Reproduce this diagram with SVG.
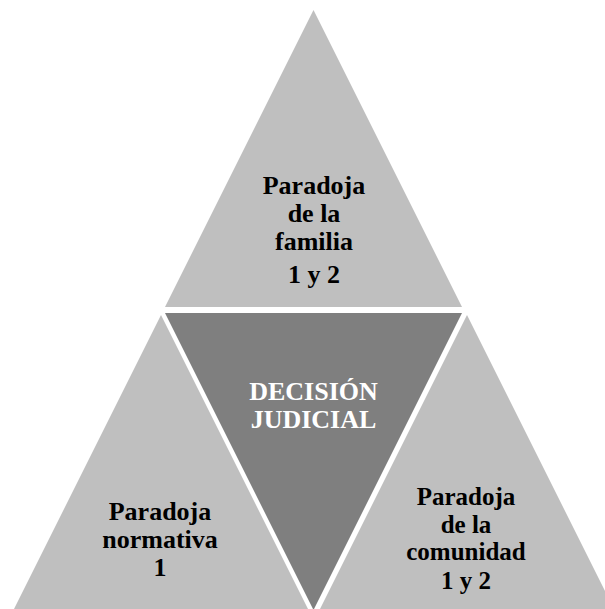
<svg xmlns="http://www.w3.org/2000/svg" width="605" height="609" viewBox="0 0 605 609">
<style>
.light{fill:#bfbfbf}
.dark{fill:#7f7f7f}
text{font-family:"Liberation Serif","Times New Roman",serif;font-weight:bold;font-size:26px;text-anchor:middle}
.sm{font-size:25px}
.blk{fill:#000}
.wht{fill:#fff}
</style>
<rect x="0" y="0" width="605" height="609" fill="#fff"/>
<g id="node-familia">
<polygon class="light" points="313.5,10 165,307 462,307"/>
<text class="blk" x="314" y="194">Paradoja</text>
<text class="blk" x="314" y="222">de la</text>
<text class="blk" x="314" y="250">familia</text>
<text class="blk" x="314" y="283">1 y 2</text>
</g>
<g id="node-normativa">
<polygon class="light" points="161,315 12.5,612 309.5,612"/>
<text class="blk" x="160" y="520">Paradoja</text>
<text class="blk" x="160" y="548">normativa</text>
<text class="blk" x="160" y="576">1</text>
</g>
<g id="node-comunidad">
<polygon class="light" points="467,315 318.5,612 615.5,612"/>
<text class="blk sm" x="466" y="505">Paradoja</text>
<text class="blk sm" x="466" y="533">de la</text>
<text class="blk sm" x="466" y="560">comunidad</text>
<text class="blk sm" x="466" y="589">1 y 2</text>
</g>
<g id="node-decision">
<polygon class="dark" points="165,313 462,313 313.5,610"/>
<text class="wht" x="313.5" y="400">DECISIÓN</text>
<text class="wht" x="313.5" y="428">JUDICIAL</text>
</g>
<g id="connectors"></g>
</svg>
